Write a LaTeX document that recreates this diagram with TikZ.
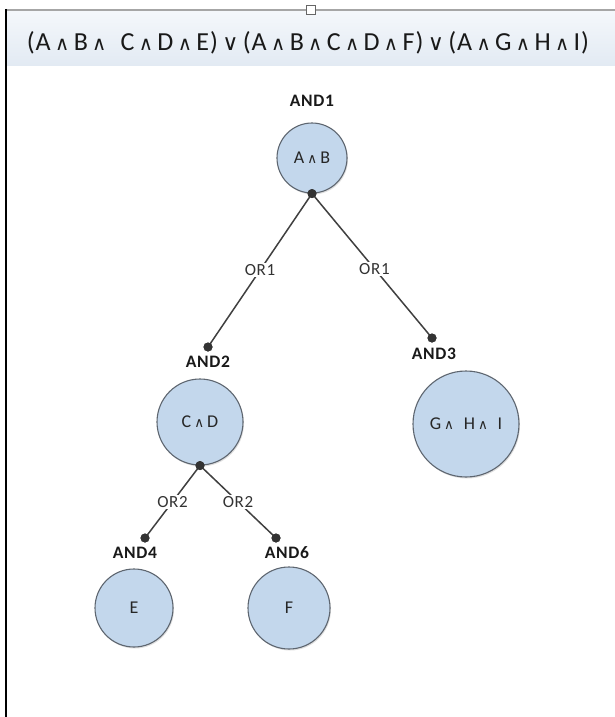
\documentclass[tikz,border=0pt]{standalone}
\usepackage{fontspec}
\setmainfont{Carlito}[LetterSpace=4]
\newfontfamily\symf{DejaVu Sans}
\usetikzlibrary{shadows}
\definecolor{nodefill}{HTML}{C3D7EC}
\definecolor{nodeedge}{HTML}{5E6670}
\definecolor{wire}{HTML}{404040}
\definecolor{bandtop}{HTML}{F4F7FB}
\definecolor{bandbot}{HTML}{E2EAF3}
\newcommand{\wedgesym}{{\symf\scalebox{0.75}{∧}}}
\newcommand{\veesym}{{\symf\scalebox{0.85}{∨}}}
\tikzset{
  circ/.style={circle, draw=nodeedge, line width=1.1pt, fill=nodefill,
    inner sep=0pt, font=\fontsize{18}{20}\selectfont\color{black!85},
    drop shadow={shadow xshift=1pt, shadow yshift=-1.5pt, opacity=0.25}},
  pin/.style={circle, fill=black!80, inner sep=0pt, minimum size=9pt},
  andlbl/.style={font=\fontsize{17.5}{19}\selectfont\bfseries, text=black!90},
  orlbl/.style={font=\fontsize{17}{19}\selectfont, text=black!80, fill=white, inner sep=1.5pt},
  wireline/.style={draw=wire, line width=1.5pt}
}
\begin{document}
\begin{tikzpicture}[x=1pt,y=-1pt]
\useasboundingbox (0,0) rectangle (615,717);
\fill[white] (0,0) rectangle (615,717);
% header band
\shade[top color=bandtop, bottom color=bandbot] (7,12) rectangle (615,66);
\draw[black!35, line width=1.5pt] (7,10) -- (615,10);
\draw[black!60, fill=white, line width=0.6pt] (306,5) rectangle (315,14);
\draw[black, line width=2pt] (6,9) -- (6,717);
\node[font=\fontsize{26}{29}\selectfont, text=black!90] (title) at (308,43)
  {(A\,\wedgesym\,B\,\wedgesym\; C\,\wedgesym\,D\,\wedgesym\,E)\,\veesym\,(A\,\wedgesym\,B\,\wedgesym\,C\,\wedgesym\,D\,\wedgesym\,F)\,\veesym\,(A\,\wedgesym\,G\,\wedgesym\,H\,\wedgesym\,I)};

% tree nodes
\node[circ, minimum size=70pt] (n1) at (312,158) {A\,\wedgesym\,B};
\node[andlbl] (l1) at (312,101) {AND1};
\node[circ, minimum size=86pt] (n2) at (200,422) {C\,\wedgesym\,D};
\node[andlbl] (l2) at (208,362) {AND2};
\node[circ, minimum size=106pt] (n3) at (466,424) {G\,\wedgesym\; H\,\wedgesym\; I};
\node[andlbl] (l3) at (434,354) {AND3};
\node[circ, minimum size=78pt] (n4) at (134,608) {E};
\node[andlbl] (l4) at (135,553) {AND4};
\node[circ, minimum size=82pt] (n6) at (289,608) {F};
\node[andlbl] (l6) at (287,553) {AND6};

% connection points
\node[pin] (p1) at (n1.south) {};
\node[pin] (p2) at (208,347) {};
\node[pin] (p3) at (432,338) {};
\node[pin] (p2b) at (n2.south) {};
\node[pin] (p4) at (145,538) {};
\node[pin] (p6) at (276,538) {};

% connectors
\draw[wireline] (p1.center) -- node[orlbl, pos=0.5] {OR1} (p2.center);
\draw[wireline] (p1.center) -- node[orlbl, pos=0.52] {OR1} (p3.center);
\draw[wireline] (p2b.center) -- node[orlbl, pos=0.5] {OR2} (p4.center);
\draw[wireline] (p2b.center) -- node[orlbl, pos=0.5] {OR2} (p6.center);
\node[pin] at (p1) {};
\node[pin] at (p2) {};
\node[pin] at (p3) {};
\node[pin] at (p2b) {};
\node[pin] at (p4) {};
\node[pin] at (p6) {};
\end{tikzpicture}
\end{document}
